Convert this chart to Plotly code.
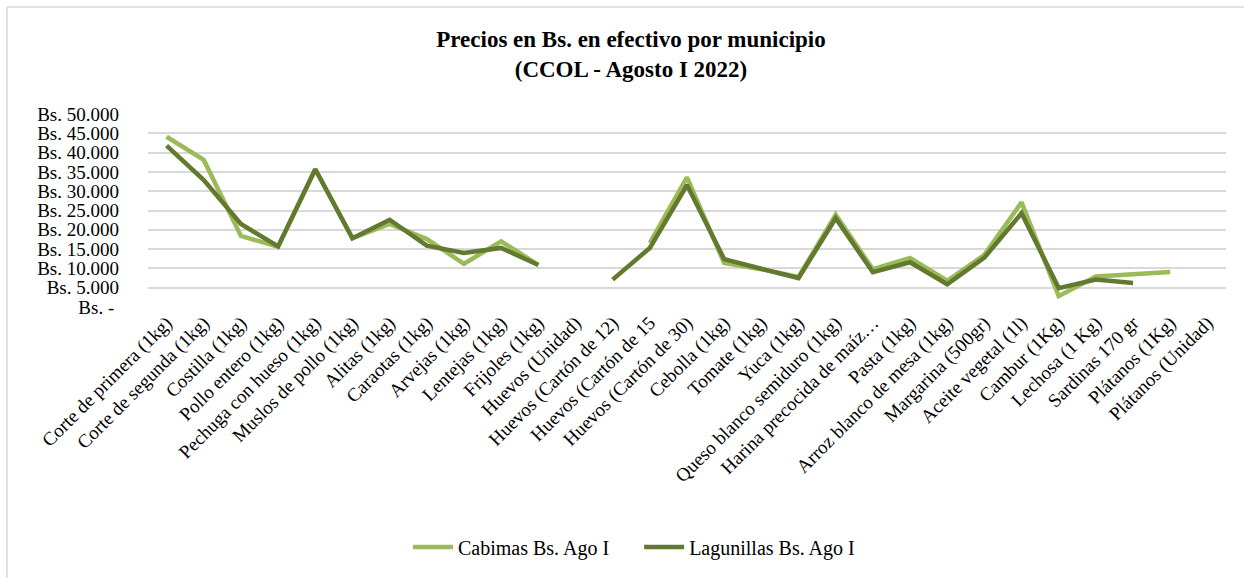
import plotly.graph_objects as go

categories = [
    "Corte de primera (1kg)", "Corte de segunda (1kg)", "Costilla (1kg)",
    "Pollo entero (1kg)", "Pechuga con hueso (1kg)", "Muslos de pollo (1kg)",
    "Alitas (1kg)", "Caraotas (1kg)", "Arvejas (1kg)", "Lentejas (1kg)",
    "Frijoles (1kg)", "Huevos (Unidad)", "Huevos (Cartón de 12)",
    "Huevos (Cartón de 15", "Huevos (Cartón de 30)", "Cebolla (1kg)",
    "Tomate (1kg)", "Yuca (1kg)", "Queso blanco semiduro (1kg)",
    "Harina precocida de maíz…", "Pasta (1kg)", "Arroz blanco de mesa (1kg)",
    "Margarina (500gr)", "Aceite vegetal (1l)", "Cambur (1Kg)",
    "Lechosa (1 Kg)", "Sardinas 170 gr", "Plátanos (1Kg)", "Plátanos (Unidad)",
]

cabimas = [
    44100, 38100, 18400, 15600, 35700, 17800, 21500, 17600, 11200, 17000,
    10900, None, None, 16600, 33600, 11400, 9800, 7800, 23900, 9800,
    12700, 6800, 13500, 27100, 2800, 7900, 8600, 9050, None,
]

lagunillas = [
    41800, 32900, 21500, 15700, 35700, 17800, 22600, 15900, 14000, 15300,
    10900, None, 7100, 15300, 31600, 12400, 9900, 7500, 23000, 9000,
    11600, 5900, 12800, 24300, 4900, 7100, 6200, None, None,
]

series_names = ["Cabimas Bs. Ago I", "Lagunillas Bs. Ago I"]
tick_vals = [0, 5000, 10000, 15000, 20000, 25000, 30000, 35000, 40000, 45000, 50000]
tick_text = ["Bs. -\u00a0", "Bs. 5.000", "Bs. 10.000", "Bs. 15.000", "Bs. 20.000",
             "Bs. 25.000", "Bs. 30.000", "Bs. 35.000", "Bs. 40.000",
             "Bs. 45.000", "Bs. 50.000"]

FONT = "Liberation Serif"
W, H = 1244, 578
L, R, T, B = 148, 18, 114, 271
pw, ph = W - L - R, H - T - B


def px_x(x):
    return (x - L) / pw


def px_y(y):
    return (H - B - y) / ph


fig = go.Figure()
fig.add_trace(go.Scatter(
    x=categories, y=cabimas, name=series_names[0] + "\u00a0\u00a0\u00a0\u00a0\u00a0",
    mode="lines", line=dict(color="#9BBB59", width=4.5), connectgaps=False,
))
fig.add_trace(go.Scatter(
    x=categories, y=lagunillas, name=series_names[1], mode="lines",
    line=dict(color="#62792F", width=4.5), connectgaps=False,
))

fig.update_layout(
    width=W, height=H,
    margin=dict(l=L, r=R, t=T, b=B),
    paper_bgcolor="white", plot_bgcolor="white",
    font=dict(family=FONT, color="#000000", size=18),
    title=dict(
        text="<b>Precios en Bs. en efectivo por municipio<br>(CCOL - Agosto I 2022)</b>",
        x=631 / W, xref="container", xanchor="center",
        y=1 - 47 / H, yref="container", yanchor="middle",
        font=dict(family=FONT, size=23, color="#000000"),
    ),
    xaxis=dict(
        tickangle=-45, showgrid=False, showline=False, ticks="",
        tickfont=dict(family=FONT, size=19, color="#000000"),
        range=[-0.5, len(categories) - 0.5],
    ),
    yaxis=dict(
        range=[0, 50000], tickvals=tick_vals, ticktext=tick_text,
        showgrid=True, gridcolor="#D9D9D9", gridwidth=1.5,
        zeroline=False, showline=False, ticks="",
        tickfont=dict(family=FONT, size=19, color="#000000"),
        ticklabelstandoff=28,
    ),
    legend=dict(
        orientation="h", xref="container", yref="container",
        x=634 / W, xanchor="center", y=31 / H, yanchor="middle",
        font=dict(family=FONT, size=20, color="#000000"),
        itemwidth=40, tracegroupgap=0,
    ),
    shapes=[
        dict(type="line", xref="paper", yref="paper",
             x0=px_x(7), x1=px_x(7), y0=px_y(7), y1=px_y(H),
             line=dict(color="#D9D9D9", width=1.5)),
        dict(type="line", xref="paper", yref="paper",
             x0=px_x(7), x1=px_x(W), y0=px_y(7), y1=px_y(7),
             line=dict(color="#D9D9D9", width=1.5)),
    ],
)

fig.write_html(
    "out.html",
    config={"displayModeBar": False},
    post_script="document.body.style.margin='0';document.body.style.overflow='hidden';",
)
